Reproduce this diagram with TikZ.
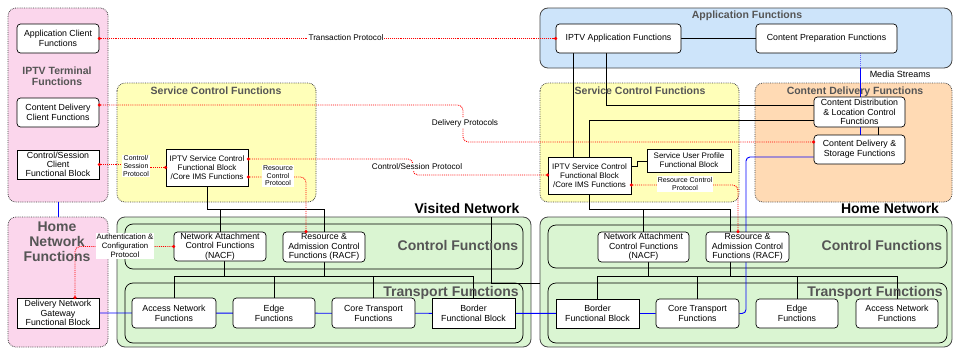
\documentclass[tikz,border=0pt]{standalone}
\usepackage{fontspec}
\setmainfont{Liberation Sans}
\usetikzlibrary{calc}
\pgfdeclarelayer{panel}
\pgfdeclarelayer{conn}
\pgfsetlayers{panel,conn,main}
\definecolor{pinkfill}{RGB}{251,214,236}
\definecolor{yelfill}{RGB}{255,255,185}
\definecolor{bluefill}{RGB}{205,228,250}
\definecolor{orgfill}{RGB}{255,218,180}
\definecolor{grnfill}{RGB}{218,245,210}
\definecolor{titlegray}{RGB}{85,85,85}
\definecolor{panelline}{RGB}{70,70,70}
\newcommand\myBoxFont{\fontsize{8.8}{10}\selectfont}
\newcommand\myTightFont{\fontsize{8.8}{9.3}\selectfont}
\newcommand\mySmBoxFont{\fontsize{8}{9}\selectfont}
\newcommand\myTinyFont{\fontsize{7}{7.6}\selectfont}
\newcommand\myLblFont{\fontsize{8.2}{9}\selectfont}
\newcommand\myTitleFont{\fontsize{10.5}{11.5}\selectfont\bfseries}
\newcommand\myBigFont{\fontsize{14}{15}\selectfont\bfseries}
\begin{document}
\begin{tikzpicture}[x=1pt,y=-1pt,
  rbox/.style={draw=black, fill=white, rounded corners=3.5pt, align=center, font=\myBoxFont, inner sep=0.5pt, line width=0.7pt},
  sbox/.style={draw=black, fill=white, align=center, font=\myBoxFont, inner sep=0.5pt, line width=0.7pt},
  ppink/.style={draw=panelline, fill=pinkfill, densely dotted, rounded corners=8pt, line width=0.8pt},
  pyel/.style={draw=panelline, fill=yelfill, densely dotted, rounded corners=8pt, line width=0.8pt},
  porg/.style={draw=panelline, fill=orgfill, densely dotted, rounded corners=8pt, line width=0.8pt},
  pblue/.style={draw=panelline, fill=bluefill, rounded corners=8pt, line width=0.8pt},
  pgreen/.style={draw=panelline, fill=grnfill, rounded corners=8pt, line width=0.8pt},
  pinner/.style={draw=black, rounded corners=8pt, line width=0.7pt},
  ptitle/.style={text=titlegray, font=\myTitleFont, align=center, inner sep=0pt},
  btitle/.style={text=titlegray, font=\myBigFont, align=center, inner sep=0pt},
  ntitle/.style={text=black, font=\myBigFont, align=center, inner sep=0pt},
  lbl/.style={fill=white, font=\myLblFont, align=center, inner sep=1pt},
  tlbl/.style={fill=white, font=\myTinyFont, align=center, inner sep=1pt},
  bline/.style={draw=black, line width=0.7pt},
  uline/.style={draw=blue, line width=0.9pt},
  rline/.style={draw=red, densely dotted, line width=0.9pt, rounded corners=5pt}
]
\useasboundingbox (0,0) rectangle (953,348);

% ---------- panels ----------
\begin{pgfonlayer}{panel}
\fill[white] (0,0) rectangle (953,348);
\draw[ppink] (8,8) rectangle (108,202);
\draw[ppink] (8,217) rectangle (108,347);
\draw[pyel] (117,83) rectangle (316,202);
\draw[pyel] (540,83) rectangle (739,202);
\draw[pblue] (540,8) rectangle (952,68);
\draw[porg] (755,83) rectangle (952,202);
\draw[pgreen] (117,217) rectangle (531,347);
\draw[pgreen] (540,217) rectangle (952,347);
\draw[pinner] (125,224) rectangle (523,269);
\draw[pinner] (125,283) rectangle (523,343);
\draw[pinner] (548,225) rectangle (947,268);
\draw[pinner] (548,283) rectangle (947,343);
\end{pgfonlayer}

% ---------- panel titles ----------
\node[ptitle] (tTerm) at (57,76) {IPTV Terminal\\Functions};
\node[btitle, font=\fontsize{14}{15}\selectfont\bfseries] (tHome) at (57,242) {Home\\Network\\Functions};
\node[ptitle] (tSCL) at (216,91) {Service Control Functions};
\node[ptitle] (tSCR) at (640,91) {Service Control Functions};
\node[ptitle] (tApp) at (747,16) {Application Functions};
\node[ptitle] (tCDF) at (855,92) {Content Delivery Functions};
\node[btitle] (tCFL) at (458,245) {Control Functions};
\node[btitle] (tTFL) at (451,293) {Transport Functions};
\node[btitle] (tCFR) at (882,245) {Control Functions};
\node[btitle] (tTFR) at (875,293) {Transport Functions};
\node[ntitle] (tVis) at (467,208) {Visited Network};
\node[ntitle] (tHN) at (890,208) {Home Network};
\node[font=\fontsize{9}{10}\selectfont, inner sep=0pt] (tMS) at (900,74) {Media Streams};

% ---------- boxes ----------
\node[rbox, minimum width=82, minimum height=29] (appclient) at (58,38.5) {Application Client\\Functions};
\node[rbox, minimum width=82, minimum height=29] (cdclient) at (58,112.5) {Content Delivery\\Client Functions};
\node[sbox, font=\myTightFont, minimum width=82, minimum height=29] (csclient) at (58,164.5) {Control/Session\\Client\\Functional Block};
\node[sbox, font=\myTightFont, minimum width=82, minimum height=30] (gateway) at (58,313) {Delivery Network\\Gateway\\Functional Block};

\node[sbox, font=\mySmBoxFont, minimum width=82, minimum height=37] (iptvL) at (207,167.5) {IPTV Service Control\\Functional Block\\/Core IMS Functions};
\node[rbox, font=\myTightFont, minimum width=92, minimum height=29] (nacfL) at (220,246.5) {Network Attachment\\Control Functions\\(NACF)};
\node[rbox, font=\myTightFont, minimum width=82, minimum height=30] (racfL) at (324,247) {Resource \&\\Admission Control\\Functions (RACF)};
\node[rbox, minimum width=84, minimum height=30] (accL) at (174,313) {Access Network\\Functions};
\node[rbox, minimum width=82, minimum height=30] (edgeL) at (274,313) {Edge\\Functions};
\node[rbox, minimum width=83, minimum height=30] (coreL) at (373.5,313) {Core Transport\\Functions};
\node[sbox, minimum width=83, minimum height=30] (borderL) at (473.5,313) {Border\\Functional Block};

\node[rbox, minimum width=125, minimum height=29] (iptvapp) at (618.5,38.5) {IPTV Application Functions};
\node[rbox, minimum width=141, minimum height=29] (contprep) at (826.5,38.5) {Content Preparation Functions};
\node[rbox, font=\myTightFont, minimum width=91, minimum height=30] (cdlc) at (859.5,112) {Content Distribution\\\& Location Control\\Functions};
\node[rbox, minimum width=91, minimum height=29] (cds) at (859.5,149.5) {Content Delivery \&\\Storage Functions};

\node[sbox, font=\mySmBoxFont, minimum width=83, minimum height=37] (iptvR) at (589.5,175.5) {IPTV Service Control\\Functional Block\\/Core IMS Functions};
\node[sbox, font=\mySmBoxFont, minimum width=84, minimum height=23] (supf) at (689,160.5) {Service User Profile\\Functional Block};
\node[rbox, font=\myTightFont, minimum width=91, minimum height=30] (nacfR) at (643.5,247) {Network Attachment\\Control Functions\\(NACF)};
\node[rbox, font=\myTightFont, minimum width=83, minimum height=30] (racfR) at (747.5,247) {Resource \&\\Admission Control\\Functions (RACF)};
\node[sbox, minimum width=83, minimum height=29] (borderR) at (597.5,313.5) {Border\\Functional Block};
\node[rbox, minimum width=83, minimum height=29] (coreR) at (697.5,313.5) {Core Transport\\Functions};
\node[rbox, minimum width=82, minimum height=29] (edgeR) at (797,313.5) {Edge\\Functions};
\node[rbox, minimum width=82, minimum height=29] (accR) at (897,313.5) {Access Network\\Functions};

% ---------- connectors ----------
\begin{pgfonlayer}{conn}
% black
\draw[bline] (iptvapp.east) -- (contprep.west);
\draw[bline] (573,0 |- iptvapp.south) -- (573,0 |- iptvR.north);
\draw[bline] (606,0 |- iptvapp.south) |- (cdlc.west |- 0,105);
\draw[bline] (iptvR.north) |- (cdlc.west |- 0,120);
\draw[bline] (iptvR.east |- 0,166) -- (637,166) -- (637,161) -- (supf.west |- 0,161);
\draw[bline] (878,0 |- cdlc.south) -- (878,0 |- cds.north);
\draw[bline] (iptvR.south) |- (730,209) -- (730,0 |- racfR.north);
\draw[bline] (nacfR.north |- 0,209) -- (nacfR.north);
\draw[bline] (648,0 |- nacfR.south) -- (648,276);
\draw[bline] (730,0 |- racfR.south) -- (730,276);
\draw[bline] (borderR.north |- 0,276) -- (accR.north |- 0,276);
\draw[bline] (borderR.north |- 0,276) -- (borderR.north);
\draw[bline] (coreR.north |- 0,276) -- (coreR.north);
\draw[bline] (edgeR.north |- 0,276) -- (edgeR.north);
\draw[bline] (accR.north |- 0,276) -- (accR.north);

\draw[bline] (iptvL.south) |- (racfL.north |- 0,209) -- (racfL.north);
\draw[bline] (nacfL.north |- 0,209) -- (nacfL.north);
\draw[bline] (224,0 |- nacfL.south) -- (224,276);
\draw[bline] (racfL.south) -- (racfL.south |- 0,276);
\draw[bline] (accL.north |- 0,276) -- (borderL.north |- 0,276);
\draw[bline] (accL.north |- 0,276) -- (accL.north);
\draw[bline] (edgeL.north |- 0,276) -- (edgeL.north);
\draw[bline] (coreL.north |- 0,276) -- (coreL.north);
\draw[bline] (borderL.north |- 0,276) -- (borderL.north);
\draw[bline] (491,217) -- (491,283) -- (540,283);

% blue
\draw[uline] (gateway.east) -- (coreR.west);
\draw[uline, rounded corners=4pt] (coreR.east) -- (746,313.5) -- (746,157) -- (cds.west |- 0,157);
\draw[uline] (58,202) -- (58,217);
\draw[draw=blue!60, densely dotted, line width=0.9pt] (860,0 |- contprep.south) -- (860,68);
\draw[uline] (860,68) -- (860,0 |- cdlc.north);
\draw[uline] (860,0 |- cdlc.south) -- (860,0 |- cds.north);

% red dotted
\draw[rline] (appclient.east) -- (iptvapp.west);
\draw[rline] (cdclient.east |- 0,105) -- (463,105) -- (463,142) -- (cds.west |- 0,142);
\draw[rline, rounded corners=0pt] (csclient.east) -- (136,0 |- csclient.east) -- (136,0 |- iptvL.west) -- (iptvL.west);
\draw[rline] (iptvL.east |- 0,159) -- (413,159) -- (413,175) -- (iptvR.west |- 0,175);
\draw[rline] (iptvL.east |- 0,177) -- (306,177) -- (306,0 |- racfL.north);
\draw[rline] (iptvR.east |- 0,185) -- (738,185) -- (738,0 |- racfR.north);
\draw[rline] (75,0 |- gateway.north) |- (nacfL.west);
\end{pgfonlayer}

% ---------- red end dots ----------
\foreach \p in {(appclient.east),(iptvapp.west),(cdclient.east |- 0,105),(cds.west |- 0,142),(csclient.east),(iptvL.west),
  (iptvL.east |- 0,159),(iptvR.west |- 0,175),(iptvL.east |- 0,177),(306,0 |- racfL.north),
  (iptvR.east |- 0,185),(738,0 |- racfR.north),(75,0 |- gateway.north),(nacfL.west)}
  \fill[red] \p circle (1.7);

% ---------- connector labels ----------
\node[lbl] (lTrans) at (346,38) {Transaction Protocol};
\node[lbl] (lDeliv) at (465,123) {Delivery Protocols};
\node[lbl] (lCS) at (417,167) {Control/Session Protocol};
\node[tlbl] (lCSs) at (136,166) {Control/\\Session\\Protocol};
\node[tlbl] (lRCL) at (278,176) {Resource\\Control\\Protocol};
\node[tlbl, font=\fontsize{7}{8}\selectfont] (lRCR) at (685,184) {Resource Control\\Protocol};
\node[lbl, font=\fontsize{7.8}{9}\selectfont] (lAuth) at (125,246) {Authentication \&\\Configuration\\Protocol};
\end{tikzpicture}
\end{document}
